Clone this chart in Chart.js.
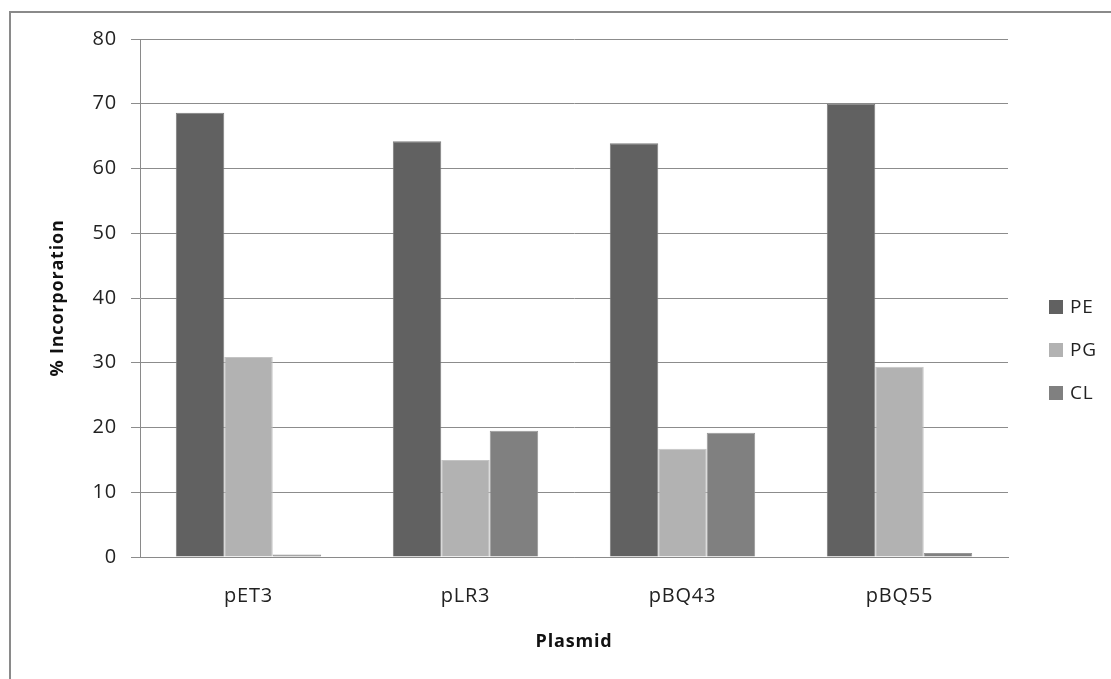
<!DOCTYPE html>
<html>
<head>
<meta charset="utf-8">
<script src="https://cdn.jsdelivr.net/npm/chart.js@4/dist/chart.umd.min.js"></script>
<style>
  html, body { margin: 0; padding: 0; background: #fff; }
  #wrap { position: relative; width: 1111px; height: 679px; }
</style>
</head>
<body>
<div id="wrap"><canvas id="c" width="1111" height="679"></canvas></div>
<script>
const categories = ['pET3', 'pLR3', 'pBQ43', 'pBQ55'];
const seriesNames = ['PE', 'PG', 'CL'];
const PE = [68.6, 64.2, 63.9, 70.0];
const PG = [30.9, 15.0, 16.7, 29.4];
const CL = [0.4, 19.5, 19.2, 0.6];
const yTicks = [0, 10, 20, 30, 40, 50, 60, 70, 80];
const yTitle = '% Incorporation';
const xTitle = 'Plasmid';

const fills = ['#616161', '#b2b2b2', '#808080'];
const edges = ['#7c7c7c', '#c4c4c4', '#969696'];
const FONT = '"Open Sans", "DejaVu Sans", sans-serif';

const frame = {
  id: 'frame',
  beforeDraw(chart) {
    const ctx = chart.ctx;
    ctx.fillStyle = '#ffffff';
    ctx.fillRect(0, 0, chart.width, chart.height);
    ctx.save();
    ctx.strokeStyle = '#8a8a8a';
    ctx.lineWidth = 2;
    ctx.strokeRect(10, 12, chart.width + 20, chart.height + 20);
    ctx.restore();
    ctx.letterSpacing = '0.8px';
  }
};

const sideLegend = {
  id: 'sideLegend',
  afterDraw(chart) {
    const ctx = chart.ctx;
    const a = chart.chartArea;
    ctx.save();
    ctx.font = '19px ' + FONT;
    ctx.textBaseline = 'middle';
    ctx.textAlign = 'left';
    chart.data.datasets.forEach((ds, i) => {
      const cy = a.top + 268 + i * 43;
      const bx = a.right + 41;
      ctx.fillStyle = ds.backgroundColor;
      ctx.fillRect(bx, cy - 7, 14, 14);
      ctx.fillStyle = '#222';
      ctx.fillText(ds.label, bx + 21, cy + 1);
    });
    ctx.restore();
  }
};

new Chart(document.getElementById('c'), {
  type: 'bar',
  data: {
    labels: categories,
    datasets: [PE, PG, CL].map((vals, i) => ({
      label: seriesNames[i],
      data: vals,
      backgroundColor: fills[i],
      borderColor: edges[i],
      borderWidth: 1,
      categoryPercentage: 0.67,
      barPercentage: 1.0
    }))
  },
  options: {
    responsive: false,
    animation: false,
    devicePixelRatio: 1,
    layout: { padding: { top: 39, right: 103, bottom: 0, left: 0 } },
    plugins: {
      legend: { display: false },
      tooltip: { enabled: false }
    },
    scales: {
      x: {
        grid: { display: false, drawTicks: false },
        border: { display: true, color: '#8a8a8a', width: 1 },
        ticks: { color: '#222', font: { family: FONT, size: 20 }, padding: 27 },
        title: { display: true, text: xTitle, color: '#111', font: { family: FONT, size: 18, weight: 'bold' }, padding: { top: 0, bottom: 26 } },
        afterFit(s) { s.height = 122; }
      },
      y: {
        min: 0, max: 80,
        afterBuildTicks(s) { s.ticks = yTicks.map(v => ({ value: v })); },
        grid: { color: '#8c8c8c', lineWidth: 1, tickLength: 9, drawTicks: true, tickColor: '#8c8c8c' },
        border: { display: true, color: '#8a8a8a', width: 1 },
        ticks: { color: '#222', font: { family: FONT, size: 20 }, padding: 14 },
        title: { display: true, text: yTitle, color: '#111', font: { family: FONT, size: 18, weight: 'bold' }, padding: { top: 47, bottom: 0 } },
        afterFit(s) { s.width = 140; }
      }
    }
  },
  plugins: [frame, sideLegend]
});
</script>
</body>
</html>
